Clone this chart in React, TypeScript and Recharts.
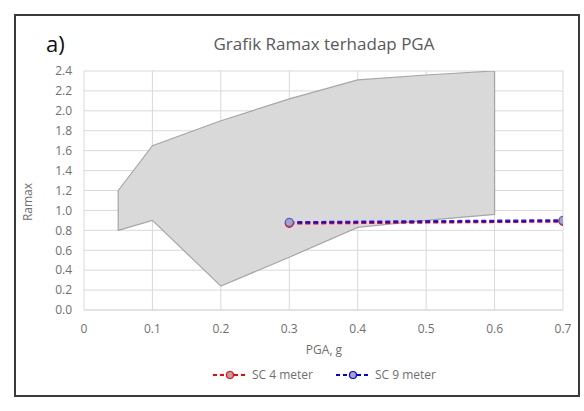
import {
  ComposedChart,
  Area,
  Line,
  XAxis,
  YAxis,
  CartesianGrid,
} from "recharts";

// shaded envelope (PGA vs Ramax band)
const bandPga = [0.05, 0.1, 0.2, 0.3, 0.4, 0.5, 0.6];
const bandLow = [0.8, 0.9, 0.24, 0.53, 0.83, 0.9, 0.96];
const bandHigh = [1.2, 1.65, 1.9, 2.12, 2.31, 2.36, 2.4];

const seriesPga = [0.3, 0.7];
const sc4 = [0.87, 0.89];
const sc9 = [0.88, 0.9];

const xTicks = [0, 0.1, 0.2, 0.3, 0.4, 0.5, 0.6, 0.7];
const yTicks = [0, 0.2, 0.4, 0.6, 0.8, 1.0, 1.2, 1.4, 1.6, 1.8, 2.0, 2.2, 2.4];

const bandData = bandPga.map((x, i) => ({ x, low: bandLow[i], high: bandHigh[i] }));
// outline goes along the top, then back along the bottom, and closes
const outlineData = [
  ...bandPga.map((x, i) => ({ x, y: bandHigh[i] })),
  ...bandPga.map((x, i) => ({ x, y: bandLow[i] })).reverse(),
  { x: bandPga[0], y: bandHigh[0] },
];
const sc4Data = seriesPga.map((x, i) => ({ x, y: sc4[i] }));
const sc9Data = seriesPga.map((x, i) => ({ x, y: sc9[i] }));

const font = "'Open Sans', 'Noto Sans', sans-serif";
const grey = "#6f6f6f";

function LegendIcon({ color, fill }: { color: string; fill: string }) {
  return (
    <svg width={36} height={12} style={{ marginRight: 4 }}>
      <line x1={1} y1={6} x2={35} y2={6} stroke={color} strokeWidth={2} strokeDasharray="4 3" />
      <circle cx={18} cy={6} r={3.5} fill={fill} stroke={color} strokeWidth={1.2} />
    </svg>
  );
}

export default function App() {
  return (
    <div
      style={{
        position: "absolute",
        left: 0,
        top: 0,
        width: 584,
        height: 411,
        background: "#fff",
        fontFamily: font,
      }}
    >
      <div
        style={{
          position: "absolute",
          left: 14,
          top: 14,
          width: 562,
          height: 379,
          border: "2px solid #3a3a3a",
        }}
      />
      <div style={{ position: "absolute", left: 46, top: 28, fontSize: 22, color: "#111" }}>a)</div>
      <div
        style={{
          position: "absolute",
          left: 84,
          width: 480,
          top: 32,
          textAlign: "center",
          fontSize: 17,
          color: "#595959",
        }}
      >
        Grafik Ramax terhadap PGA
      </div>
      <div
        style={{
          position: "absolute",
          left: 27,
          top: 202,
          transform: "translate(-50%, -50%) rotate(-90deg)",
          fontSize: 12,
          color: grey,
        }}
      >
        Ramax
      </div>
      <div
        style={{
          position: "absolute",
          left: 84,
          width: 480,
          top: 341,
          textAlign: "center",
          fontSize: 12,
          color: grey,
        }}
      >
        PGA, g
      </div>
      <div
        style={{
          position: "absolute",
          left: 84,
          width: 480,
          top: 366,
          display: "flex",
          justifyContent: "center",
          alignItems: "center",
          fontSize: 12,
          color: grey,
        }}
      >
        <LegendIcon color="#ff0000" fill="#b0a4a8" />
        <span style={{ marginRight: 22 }}>SC 4 meter</span>
        <LegendIcon color="#0000ee" fill="#a4a4c8" />
        <span>SC 9 meter</span>
      </div>
      <div style={{ position: "absolute", left: 0, top: 0 }}>
        <ComposedChart
          width={584}
          height={411}
          margin={{ top: 71, right: 21, left: 0, bottom: 71 }}
        >
          <CartesianGrid stroke="#d9d9d9" strokeWidth={1} />
          <XAxis
            type="number"
            dataKey="x"
            domain={[0, 0.7]}
            ticks={xTicks}
            interval={0}
            allowDataOverflow
            tickFormatter={(v: number) => (v === 0 ? "0" : v.toFixed(1))}
            tick={{ fill: grey, fontSize: 12, fontFamily: font }}
            tickLine={false}
            tickSize={0}
            tickMargin={14}
            axisLine={{ stroke: "#d9d9d9" }}
            height={30}
          />
          <YAxis
            type="number"
            domain={[0, 2.4]}
            ticks={yTicks}
            interval={0}
            allowDataOverflow
            tickFormatter={(v: number) => v.toFixed(1)}
            tick={{ fill: grey, fontSize: 12, fontFamily: font }}
            tickLine={false}
            tickSize={0}
            tickMargin={12}
            axisLine={false}
            width={84}
          />
          <Area
            data={bandData}
            dataKey={(d: { low: number; high: number }) => [d.low, d.high]}
            type="linear"
            fill="#d9d9d9"
            fillOpacity={1}
            stroke="none"
            isAnimationActive={false}
          />
          <Line
            data={outlineData}
            dataKey="y"
            type="linear"
            stroke="#a6a6a6"
            strokeWidth={1.2}
            dot={false}
            activeDot={false}
            isAnimationActive={false}
          />
          <Line
            data={sc4Data}
            dataKey="y"
            type="linear"
            stroke="#ff0000"
            strokeWidth={2.5}
            strokeDasharray="5 3"
            dot={{ r: 4, fill: "#b0a4a8", stroke: "#ff0000", strokeWidth: 1.2, strokeDasharray: "0" }}
            isAnimationActive={false}
          />
          <Line
            data={sc9Data}
            dataKey="y"
            type="linear"
            stroke="#0000ee"
            strokeWidth={2.5}
            strokeDasharray="5 3"
            strokeOpacity={0.85}
            dot={{ r: 4, fill: "#a4a4c8", stroke: "#5050c0", strokeWidth: 1.2, strokeDasharray: "0" }}
            isAnimationActive={false}
          />
        </ComposedChart>
      </div>
    </div>
  );
}
